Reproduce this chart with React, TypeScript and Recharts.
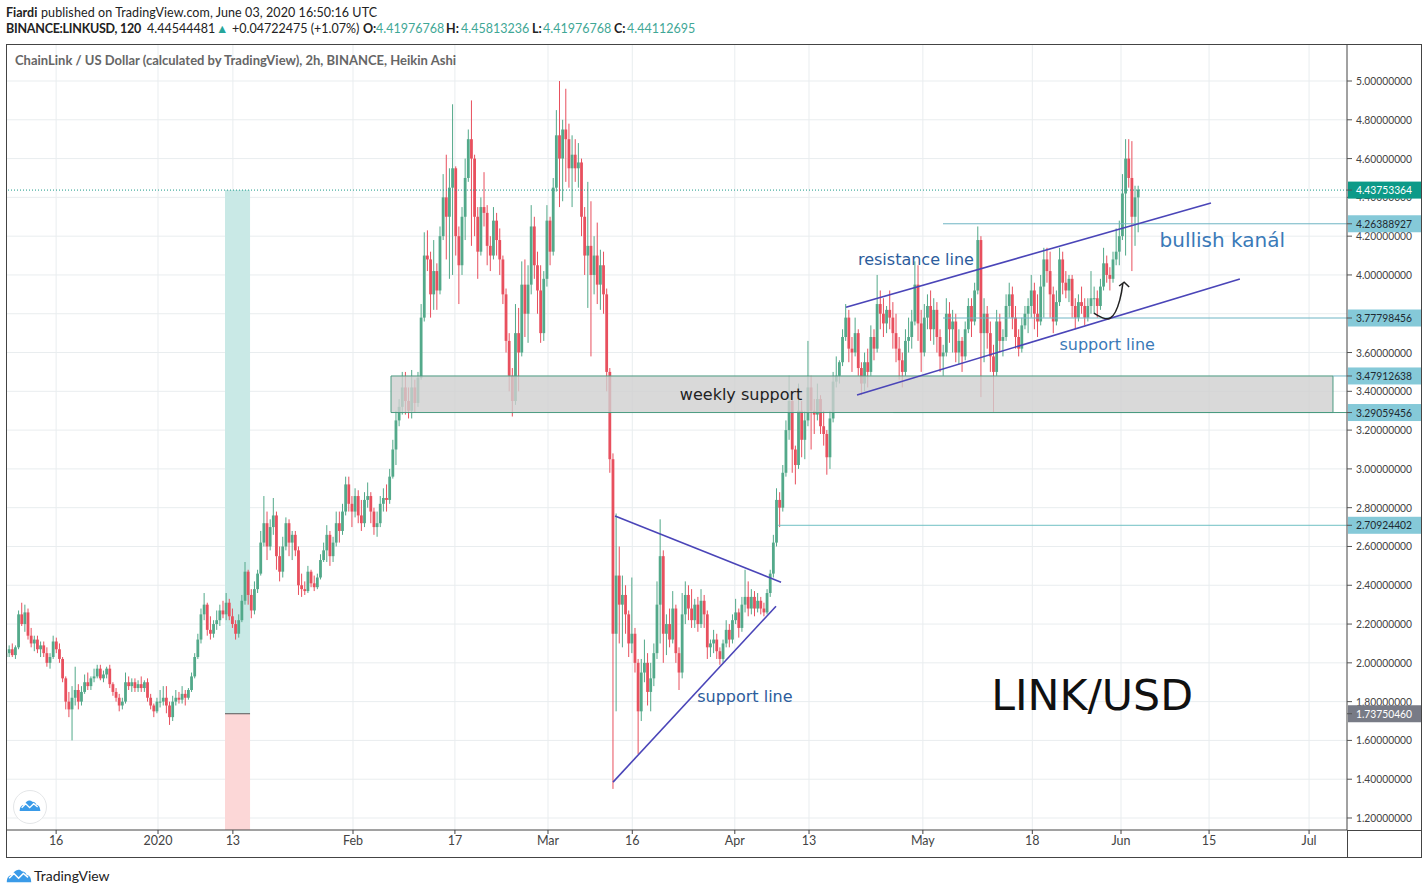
import {
  Bar,
  CartesianGrid,
  ComposedChart,
  Label,
  Line,
  ReferenceArea,
  ReferenceDot,
  ReferenceLine,
  XAxis,
  YAxis,
} from 'recharts';

// rows are [open, high, low, close], one row per half day
const decCandles = [
  [2.03,2.06,2.01,2.05],[2.05,2.09,2.03,2.07],[2.07,2.10,2.03,2.04],[2.04,2.09,2.02,2.08],[2.08,2.27,2.07,2.25],
  [2.25,2.31,2.19,2.20],[2.20,2.30,2.16,2.26],[2.26,2.28,2.12,2.14],[2.14,2.18,2.08,2.10],[2.10,2.14,2.06,2.12],
  [2.12,2.14,2.05,2.07],[2.07,2.11,2.03,2.09],[2.09,2.11,2.03,2.05],[2.05,2.08,1.98,2.00],[2.00,2.05,1.97,2.03],
  [2.03,2.14,2.02,2.11],[2.11,2.13,2.05,2.07],[2.07,2.10,2.00,2.02],[2.02,2.03,1.90,1.92],[1.92,1.93,1.76,1.80],
  [1.80,1.85,1.72,1.76],[1.76,1.88,1.60,1.82],[1.82,1.98,1.78,1.86],[1.86,1.89,1.76,1.80],[1.80,1.88,1.78,1.85],
  [1.85,1.94,1.84,1.90],[1.90,1.95,1.86,1.88],[1.88,1.93,1.86,1.92],[1.92,1.97,1.90,1.93],[1.93,1.99,1.92,1.97],
  [1.97,1.99,1.91,1.92],[1.92,1.96,1.90,1.94],[1.94,1.98,1.92,1.97],[1.97,1.99,1.87,1.89],[1.89,1.90,1.83,1.85],
  [1.85,1.87,1.80,1.82],[1.82,1.84,1.75,1.78],[1.78,1.82,1.76,1.80],[1.80,1.95,1.79,1.90],[1.90,1.93,1.86,1.88],
  [1.88,1.92,1.85,1.90],[1.90,1.92,1.85,1.87],[1.87,1.91,1.85,1.89],[1.89,1.93,1.85,1.87],[1.87,1.91,1.85,1.90],
  [1.90,1.92,1.80,1.82],[1.82,1.84,1.76,1.78],[1.78,1.79,1.72,1.75],[1.75,1.82,1.74,1.80],[1.80,1.86,1.77,1.80],
];
const janCandles = [
  [1.80,1.88,1.78,1.82],[1.82,1.88,1.74,1.78],[1.78,1.80,1.68,1.72],[1.72,1.83,1.70,1.80],[1.80,1.86,1.78,1.82],
  [1.82,1.85,1.79,1.81],[1.81,1.88,1.79,1.84],[1.84,1.86,1.78,1.82],[1.82,1.87,1.81,1.86],[1.86,1.95,1.85,1.93],
  [1.93,2.05,1.92,2.03],[2.03,2.15,2.02,2.12],[2.12,2.28,2.10,2.25],[2.25,2.36,2.22,2.30],[2.30,2.31,2.14,2.17],
  [2.17,2.24,2.12,2.15],[2.15,2.22,2.13,2.20],[2.20,2.27,2.17,2.22],[2.22,2.30,2.19,2.27],[2.27,2.32,2.23,2.25],
  [2.25,2.36,2.22,2.31],[2.31,2.33,2.22,2.24],[2.24,2.28,2.18,2.20],[2.20,2.22,2.12,2.15],[2.15,2.25,2.13,2.22],
  [2.22,2.35,2.21,2.32],[2.32,2.52,2.30,2.47],[2.47,2.48,2.30,2.35],[2.35,2.38,2.23,2.27],[2.27,2.42,2.25,2.38],
  [2.38,2.48,2.36,2.46],[2.46,2.68,2.45,2.62],[2.62,2.86,2.60,2.72],[2.72,2.78,2.53,2.60],[2.60,2.74,2.58,2.70],
  [2.70,2.85,2.66,2.76],[2.76,2.78,2.48,2.55],[2.55,2.60,2.42,2.47],[2.47,2.65,2.44,2.60],[2.60,2.75,2.58,2.72],
  [2.72,2.74,2.55,2.62],[2.62,2.68,2.53,2.66],[2.66,2.68,2.55,2.58],[2.58,2.60,2.35,2.40],[2.40,2.46,2.34,2.38],
  [2.38,2.42,2.35,2.37],[2.37,2.50,2.36,2.47],[2.47,2.48,2.39,2.41],[2.41,2.45,2.37,2.39],[2.39,2.46,2.38,2.44],
  [2.44,2.56,2.43,2.53],[2.53,2.62,2.52,2.58],[2.58,2.71,2.52,2.66],[2.66,2.68,2.50,2.55],[2.55,2.65,2.52,2.62],
  [2.62,2.78,2.60,2.72],[2.72,2.78,2.62,2.68],[2.68,2.82,2.66,2.78],[2.78,2.96,2.76,2.92],[2.92,2.96,2.78,2.82],
  [2.82,2.86,2.70,2.78],
];
const febCandles = [
  [2.78,2.90,2.75,2.86],[2.86,2.89,2.72,2.76],[2.76,2.84,2.68,2.72],[2.72,2.88,2.70,2.84],[2.84,2.93,2.80,2.86],
  [2.86,2.88,2.72,2.78],[2.78,2.80,2.66,2.70],[2.70,2.78,2.65,2.72],[2.72,2.86,2.70,2.82],[2.82,2.90,2.78,2.85],
  [2.85,2.92,2.78,2.84],[2.84,3.00,2.82,2.96],[2.96,3.15,2.95,3.10],[3.10,3.30,3.02,3.25],[3.25,3.36,3.22,3.32],
  [3.32,3.50,3.28,3.42],[3.42,3.50,3.28,3.35],[3.35,3.42,3.26,3.30],[3.30,3.51,3.26,3.42],[3.42,3.46,3.29,3.34],
  [3.34,3.50,3.32,3.47],[3.47,3.85,3.46,3.78],[3.78,4.22,3.76,4.10],[4.10,4.23,4.02,4.08],[4.08,4.12,3.78,3.90],
  [3.90,4.18,3.82,4.02],[4.02,4.06,3.82,3.92],[3.92,4.25,3.90,4.20],[4.20,4.52,4.18,4.40],[4.40,4.62,4.08,4.30],
  [4.30,4.55,3.98,4.45],[4.45,4.88,4.00,4.55],[4.55,4.56,4.10,4.20],[4.20,4.25,3.85,4.05],[4.05,4.35,4.00,4.30],
  [4.30,4.60,4.18,4.50],[4.50,4.75,4.48,4.70],[4.70,4.90,4.15,4.60],[4.60,4.62,4.20,4.30],[4.30,4.35,3.98,4.12],
  [4.12,4.40,4.10,4.35],[4.35,4.53,4.25,4.32],[4.32,4.36,4.05,4.15],[4.15,4.20,4.02,4.10],[4.10,4.35,4.08,4.28],
  [4.28,4.32,4.10,4.18],[4.18,4.24,4.00,4.08],[4.08,4.10,3.85,3.90],[3.90,3.93,3.60,3.66],[3.66,3.70,3.40,3.48],
  [3.48,3.52,3.27,3.35],[3.35,3.85,3.33,3.70],[3.70,3.83,3.40,3.60],[3.60,4.07,3.58,3.95],[3.95,4.08,3.68,3.80],
  [3.80,4.05,3.65,3.95],[3.95,4.36,3.90,4.25],[4.25,4.30,3.98,4.05],[4.05,4.12,3.80,3.92],[3.92,4.05,3.65,3.70],
  [3.70,4.02,3.66,3.98],[3.98,4.36,3.94,4.28],
];
const marCandles = [
  [4.28,4.30,4.05,4.12],[4.12,4.50,4.10,4.45],[4.45,4.85,4.43,4.72],[4.72,5.00,4.35,4.60],[4.60,4.80,4.38,4.75],
  [4.75,4.96,4.48,4.70],[4.70,4.78,4.45,4.55],[4.55,4.72,4.35,4.62],[4.62,4.70,4.48,4.55],[4.55,4.68,4.45,4.58],
  [4.58,4.60,4.20,4.30],[4.30,4.35,4.00,4.10],[4.10,4.48,3.83,4.15],[4.15,4.38,3.58,4.00],[4.00,4.20,3.90,4.10],
  [4.10,4.27,3.85,3.95],[3.95,4.13,3.82,4.05],[4.05,4.12,3.80,3.90],[3.90,3.93,3.40,3.50],[3.50,3.52,2.98,3.05],
  [3.05,3.08,1.35,2.15],[2.15,2.77,1.75,2.45],[2.45,2.60,2.10,2.30],[2.30,2.45,2.08,2.35],[2.35,2.40,2.15,2.25],
  [2.25,2.27,2.03,2.10],[2.10,2.44,2.05,2.15],[2.15,2.18,1.95,2.00],[2.00,2.02,1.53,1.75],[1.75,2.02,1.70,1.95],
  [1.95,2.12,1.90,2.00],[2.00,2.05,1.78,1.85],[1.85,2.00,1.75,1.92],[1.92,2.10,1.88,2.05],[2.05,2.42,2.02,2.30],
  [2.30,2.74,2.10,2.55],[2.55,2.58,2.00,2.15],[2.15,2.25,2.04,2.20],[2.20,2.28,2.08,2.12],[2.12,2.37,2.10,2.28],
  [2.28,2.30,2.00,2.05],[2.05,2.08,1.86,1.95],[1.95,2.36,1.92,2.25],[2.25,2.42,2.20,2.35],[2.35,2.40,2.22,2.28],
  [2.28,2.38,2.18,2.22],[2.22,2.33,2.18,2.30],[2.30,2.34,2.16,2.20],[2.20,2.38,2.18,2.32],[2.32,2.35,2.18,2.25],
  [2.25,2.27,2.02,2.08],[2.08,2.12,2.03,2.10],[2.10,2.17,2.05,2.12],[2.12,2.15,2.02,2.06],[2.06,2.08,1.99,2.02],
  [2.02,2.12,2.00,2.10],[2.10,2.22,2.08,2.17],[2.17,2.20,2.08,2.12],[2.12,2.25,2.10,2.22],[2.22,2.33,2.20,2.26],
];
const aprCandles = [
  [2.26,2.28,2.13,2.18],[2.18,2.34,2.16,2.30],[2.30,2.48,2.26,2.34],[2.34,2.42,2.24,2.28],[2.28,2.38,2.25,2.34],
  [2.34,2.37,2.24,2.28],[2.28,2.36,2.26,2.32],[2.32,2.34,2.25,2.28],[2.28,2.31,2.24,2.26],[2.26,2.38,2.25,2.36],
  [2.36,2.48,2.34,2.46],[2.46,2.66,2.44,2.62],[2.62,2.90,2.60,2.84],[2.84,2.88,2.70,2.80],[2.80,3.02,2.78,2.98],
  [2.98,3.25,2.96,3.20],[3.20,3.48,3.15,3.35],[3.35,3.38,2.98,3.10],[3.10,3.12,2.92,3.02],[3.02,3.44,3.00,3.30],
  [3.30,3.35,3.06,3.15],[3.15,3.30,3.05,3.25],[3.25,3.66,3.22,3.42],[3.42,3.48,3.10,3.30],[3.30,3.36,3.18,3.28],
  [3.28,3.44,3.25,3.36],[3.36,3.38,3.18,3.22],[3.22,3.30,3.12,3.18],[3.18,3.20,2.97,3.06],[3.06,3.30,3.00,3.26],
  [3.26,3.50,3.24,3.45],[3.45,3.58,3.42,3.48],[3.48,3.56,3.44,3.55],[3.55,3.72,3.53,3.68],[3.68,3.85,3.66,3.78],
  [3.78,3.82,3.55,3.62],[3.62,3.68,3.50,3.60],[3.60,3.78,3.58,3.70],[3.70,3.72,3.48,3.52],[3.52,3.55,3.38,3.44],
  [3.44,3.60,3.40,3.55],[3.55,3.62,3.42,3.50],[3.50,3.74,3.48,3.68],[3.68,3.72,3.56,3.62],[3.62,4.00,3.60,3.85],
  [3.85,3.92,3.72,3.80],[3.80,3.88,3.68,3.75],[3.75,3.84,3.70,3.82],[3.82,3.92,3.72,3.78],[3.78,3.86,3.62,3.70],
  [3.70,3.80,3.55,3.62],[3.62,3.68,3.46,3.56],[3.56,3.60,3.42,3.50],[3.50,3.72,3.48,3.66],[3.66,3.78,3.60,3.68],
  [3.68,3.82,3.62,3.76],[3.76,4.07,3.74,3.95],[3.95,4.05,3.66,3.75],[3.75,3.82,3.50,3.60],[3.60,3.85,3.58,3.78],
];
const mayCandles = [
  [3.78,3.90,3.72,3.84],[3.84,3.92,3.66,3.72],[3.72,3.88,3.64,3.82],[3.82,3.86,3.60,3.68],[3.68,3.72,3.50,3.58],
  [3.58,3.64,3.48,3.60],[3.60,3.88,3.58,3.80],[3.80,3.86,3.65,3.72],[3.72,3.82,3.60,3.76],[3.76,3.80,3.55,3.60],
  [3.60,3.72,3.54,3.66],[3.66,3.68,3.50,3.58],[3.58,3.76,3.56,3.72],[3.72,3.88,3.70,3.84],[3.84,3.88,3.68,3.76],
  [3.76,3.96,3.74,3.92],[3.92,4.25,3.90,4.18],[4.18,4.20,3.37,3.70],[3.70,3.88,3.55,3.80],[3.80,3.84,3.62,3.70],
  [3.70,3.76,3.50,3.58],[3.58,3.64,3.29,3.50],[3.50,3.82,3.48,3.76],[3.76,3.80,3.60,3.66],[3.66,3.72,3.58,3.68],
  [3.68,3.90,3.66,3.84],[3.84,3.96,3.78,3.90],[3.90,3.94,3.72,3.78],[3.78,3.84,3.62,3.68],[3.68,3.72,3.58,3.62],
  [3.62,3.78,3.60,3.74],[3.74,3.84,3.72,3.80],[3.80,3.88,3.70,3.84],[3.84,4.00,3.78,3.92],[3.92,3.96,3.72,3.80],
  [3.80,3.90,3.68,3.76],[3.76,4.00,3.74,3.94],[3.94,4.14,3.78,4.08],[4.08,4.14,3.96,4.02],[4.02,4.12,3.78,3.90],
  [3.90,3.94,3.70,3.76],[3.76,3.92,3.74,3.86],[3.86,4.14,3.84,4.08],[4.08,4.12,3.90,3.96],[3.96,4.02,3.88,3.92],
  [3.92,4.00,3.86,3.98],[3.98,4.00,3.78,3.84],[3.84,3.88,3.72,3.78],[3.78,3.90,3.76,3.86],[3.86,3.94,3.80,3.84],
  [3.84,3.88,3.74,3.78],[3.78,3.88,3.76,3.84],[3.84,4.02,3.80,3.88],[3.88,3.94,3.80,3.88],[3.88,3.92,3.78,3.84],
  [3.84,3.98,3.82,3.94],[3.94,4.14,3.92,4.06],[4.06,4.10,3.96,4.00],[4.00,4.04,3.92,3.98],[3.98,4.12,3.96,4.08],
  [4.08,4.24,4.05,4.12],[4.12,4.28,4.05,4.20],[4.20,4.52,4.18,4.42],[4.42,4.70,4.10,4.60],[4.60,4.70,4.45,4.50],
  [4.50,4.69,4.02,4.30],[4.30,4.46,4.15,4.40],[4.40,4.46,4.22,4.44],
];

const startDay = -24.17;
const stepDay = 0.5;

const priceTicks = [1.2,1.4,1.6,1.8,2,2.2,2.4,2.6,2.8,3,3.2,3.4,3.6,3.8,4,4.2,4.4,4.6,4.8,5];
const tickDays = [-16.2,0,11.9,31,47.2,62,75.4,91.7,103.5,121.6,139,153.1,167.1,183];
const tickLabels = ['16','2020','13','Feb','17','Mar','16','Apr','13','May','18','Jun','15','Jul'];

const LAST_PRICE = 4.43753364;
const ENTRY_PRICE = 1.7375046;
const ZONE_LOW = 3.29059456;
const ZONE_HIGH = 3.47912638;
const LEVEL_A = 4.26388927;
const LEVEL_B = 3.77798456;
const LEVEL_C = 2.70924402;
const badgePrices = [LEVEL_A, LEVEL_B, LEVEL_C, ZONE_HIGH, ZONE_LOW, ENTRY_PRICE, LAST_PRICE];

const trendLines = [
  [[72.66, 2.757], [99.05, 2.416]],
  [[72.34, 1.385], [98.25, 2.292]],
  [[109.38, 3.834], [167.4, 4.371]],
  [[111.13, 3.381], [172.0, 3.979]],
];
const arrowCurve = [
  { t: 148.8, p: 3.803 },
  { t: 151.4, p: 3.778 },
  { t: 152.9, p: 3.87 },
  { t: 153.4, p: 3.958 },
];
const arrowHead = [
  { t: 152.8, p: 3.943 },
  { t: 153.6, p: 3.963 },
  { t: 154.4, p: 3.938 },
];

const GREEN = '#53a98a';
const RED = '#e8505e';
const AXIS_X = 1347;
const FONT = 'Lato, "Noto Sans", sans-serif';
const NOTE_FONT = '"DejaVu Sans", sans-serif';

const data = [...decCandles, ...janCandles, ...febCandles, ...marCandles, ...aprCandles, ...mayCandles].map((r, i) => ({
  t: startDay + i * stepDay,
  open: r[0],
  high: r[1],
  low: r[2],
  close: r[3],
}));

const Candle = (props: any) => {
  const { x, y, width, height, payload } = props;
  const { open, high, low, close } = payload;
  const k = height / (high - low);
  const cx = x + width / 2;
  const top = y + (high - Math.max(open, close)) * k;
  const h = Math.max(1, Math.abs(open - close) * k);
  const color = close >= open ? GREEN : RED;
  return (
    <g>
      <rect x={cx - 0.5} y={y} width={1} height={height} fill={color} />
      <rect x={cx - 1.4} y={top} width={2.8} height={h} fill={color} />
    </g>
  );
};

const badgeStyle = (value: number) => {
  if (value === LAST_PRICE) return { fill: '#0c9a88', text: '#ffffff' };
  if (value === ENTRY_PRICE) return { fill: '#787b86', text: '#ffffff' };
  return { fill: '#85c9d8', text: '#1f2a30' };
};

const PriceTick = (props: any) => {
  const { y, payload } = props;
  const value = payload.value;
  const isBadge = badgePrices.includes(value);
  const s = badgeStyle(value);
  return (
    <g>
      {isBadge && <rect x={AXIS_X + 1} y={y - 8.5} width={73} height={17} fill={s.fill} />}
      <line x1={AXIS_X} x2={AXIS_X + 5} y1={y} y2={y} stroke="#555" />
      <text
        x={AXIS_X + 9}
        y={y + 4}
        fontFamily={FONT}
        fontSize={11.5}
        textLength={56}
        lengthAdjust="spacingAndGlyphs"
        fill={isBadge ? s.text : '#444'}
      >
        {value.toFixed(8)}
      </text>
    </g>
  );
};

const Cloud = ({ x, y, w, color }: any) => (
  <svg width={w} viewBox="0 0 33 19" style={{ position: 'absolute', left: x, top: y }}>
    <path
      d="M1 18 C1 12 4 9 8 9 C10 3 16 0 20 4 C24 4 26 7 26 9 C30 9 32 13 32 18 Z"
      fill={color}
    />
    <path d="M4 13 L10 7 L16 13 L22 7 L28 12" stroke="#fff" strokeWidth={2} fill="none" />
  </svg>
);

const Run = ({ x, y, bold, color, spacing, children }: any) => (
  <span
    style={{
      position: 'absolute',
      left: x,
      top: y,
      fontFamily: FONT,
      fontSize: 12.5,
      lineHeight: '16px',
      fontWeight: bold ? 700 : 400,
      letterSpacing: spacing || 0,
      color: color || '#222',
      whiteSpace: 'nowrap',
    }}
  >
    {children}
  </span>
);

const notes = [
  { text: 'resistance line', t: 120.5, p: 4.082, size: 16, color: '#2c5c9c' },
  { text: 'bullish kanál', t: 169.2, p: 4.18, size: 20, color: '#3a7ab8' },
  { text: 'support line', t: 150.9, p: 3.64, size: 16, color: '#3a7ab8' },
  { text: 'support line', t: 93.3, p: 1.828, size: 16, color: '#2c5c9c' },
  { text: 'weekly support', t: 92.7, p: 3.386, size: 16, color: '#222' },
  { text: 'LINK/USD', t: 148.5, p: 1.833, size: 42.7, color: '#111' },
];

export default function App() {
  return (
    <div style={{ position: 'absolute', left: 0, top: 0, width: 1428, height: 894, background: '#fff', overflow: 'hidden' }}>
      <Run x={6} y={5} bold>Fiardi</Run>
      <Run x={41} y={5} spacing={0.09}>published on TradingView.com, June 03, 2020 16:50:16 UTC</Run>
      <Run x={6} y={21} bold spacing={-0.25}>BINANCE:LINKUSD, 120</Run>
      <Run x={147} y={21}>4.44544481</Run>
      <Run x={216} y={21} color="#26a69a">▲</Run>
      <Run x={232} y={21}>+0.04722475 (+1.07%)</Run>
      <Run x={363} y={21} bold>O:</Run>
      <Run x={376} y={21} color="#3fa796">4.41976768</Run>
      <Run x={446} y={21} bold>H:</Run>
      <Run x={461} y={21} color="#3fa796">4.45813236</Run>
      <Run x={532} y={21} bold>L:</Run>
      <Run x={543} y={21} color="#3fa796">4.41976768</Run>
      <Run x={614} y={21} bold>C:</Run>
      <Run x={627} y={21} color="#3fa796">4.44112695</Run>

      <div style={{ position: 'absolute', left: 0, top: 0 }}>
        <ComposedChart
          width={1428}
          height={894}
          data={data}
          margin={{ left: 6, top: 44, right: 7, bottom: 37 }}
          barSize={3}
        >
          <CartesianGrid stroke="#e9edef" horizontalValues={priceTicks} verticalValues={tickDays} />
          <XAxis
            dataKey="t"
            type="number"
            domain={[-24.17, 189.03]}
            allowDataOverflow
            ticks={tickDays}
            interval={0}
            height={27}
            tickSize={4}
            tickFormatter={(v: number) => tickLabels[tickDays.indexOf(v)]}
            tick={{ fontFamily: FONT, fontSize: 12.5, fill: '#444' }}
            stroke="#444"
          />
          <YAxis
            orientation="right"
            width={74}
            domain={[1.1381, 5.1908]}
            allowDataOverflow
            ticks={[...priceTicks.filter((v) => v !== 3.8), ...badgePrices]}
            interval={0}
            tickLine={false}
            tick={<PriceTick />}
            stroke="#444"
          />
          <ReferenceArea x1={10.65} x2={14.63} y1={ENTRY_PRICE} y2={LAST_PRICE} fill="#c9e9e6" fillOpacity={1} stroke="none" />
          <ReferenceArea x1={10.65} x2={14.63} y1={1.1381} y2={ENTRY_PRICE} fill="#fcd7d7" fillOpacity={1} stroke="none" />
          <Bar dataKey={(d: any) => [d.low, d.high]} shape={<Candle />} isAnimationActive={false} />
          <ReferenceArea
            x1={37.04}
            x2={186.8}
            y1={ZONE_LOW}
            y2={ZONE_HIGH}
            fill="#cfcfcf"
            fillOpacity={0.8}
            stroke="#4a9a80"
            zIndex={350}
          />
          <ReferenceLine y={LAST_PRICE} stroke="#1a9a88" strokeDasharray="1 2" />
          <ReferenceLine segment={[{ x: 10.65, y: ENTRY_PRICE }, { x: 14.63, y: ENTRY_PRICE }]} stroke="#555" />
          <ReferenceLine segment={[{ x: 124.8, y: LEVEL_A }, { x: 189.03, y: LEVEL_A }]} stroke="#6fb5c4" />
          <ReferenceLine segment={[{ x: 124.8, y: LEVEL_B }, { x: 189.03, y: LEVEL_B }]} stroke="#6fb5c4" />
          <ReferenceLine segment={[{ x: 98.6, y: LEVEL_C }, { x: 189.03, y: LEVEL_C }]} stroke="#6fc0c4" />
          <ReferenceLine segment={[{ x: 116.9, y: ZONE_LOW }, { x: 189.03, y: ZONE_LOW }]} stroke="#4a9a80" />
          <ReferenceLine segment={[{ x: 186.8, y: ZONE_HIGH }, { x: 189.03, y: ZONE_HIGH }]} stroke="#6fb5c4" />
          {trendLines.map((l, i) => (
            <ReferenceLine
              key={i}
              segment={[{ x: l[0][0], y: l[0][1] }, { x: l[1][0], y: l[1][1] }]}
              stroke="#4a45b8"
              strokeWidth={1.6}
            />
          ))}
          <Line data={arrowCurve} dataKey="p" type="natural" stroke="#222" strokeWidth={1.5} dot={false} isAnimationActive={false} />
          <Line data={arrowHead} dataKey="p" type="linear" stroke="#222" strokeWidth={1.5} dot={false} isAnimationActive={false} />
          {notes.map((n, i) => (
            <ReferenceDot key={i} x={n.t} y={n.p} r={0} stroke="none" fill="none">
              <Label value={n.text} position="center" fontFamily={NOTE_FONT} fontSize={n.size} fill={n.color} />
            </ReferenceDot>
          ))}
        </ComposedChart>
      </div>

      {/* panel frame */}
      <div style={{ position: 'absolute', left: 6, top: 44, width: 1414, height: 812, border: '1px solid #444', pointerEvents: 'none' }} />
      <div style={{ position: 'absolute', left: 1347, top: 830, width: 74, height: 1, background: '#444' }} />
      <div style={{ position: 'absolute', left: 1347, top: 830, width: 1, height: 27, background: '#444' }} />

      <span
        style={{
          position: 'absolute',
          left: 15,
          top: 52,
          fontFamily: FONT,
          fontSize: 13,
          lineHeight: '16px',
          fontWeight: 700,
          color: '#666',
          whiteSpace: 'nowrap',
        }}
      >
        ChainLink / US Dollar (calculated by TradingView), 2h, BINANCE, Heikin Ashi
      </span>

      <div style={{ position: 'absolute', left: 13, top: 790, width: 32, height: 32, borderRadius: 17, background: '#fff', border: '1px solid #e4e6e8' }} />
      <Cloud x={19} y={799} w={22} color="#3a9be8" />
      <Cloud x={6} y={868} w={26} color="#3a9be8" />
      <span style={{ position: 'absolute', left: 34, top: 867, fontFamily: FONT, fontSize: 14, lineHeight: '18px', color: '#222' }}>TradingView</span>
    </div>
  );
}
